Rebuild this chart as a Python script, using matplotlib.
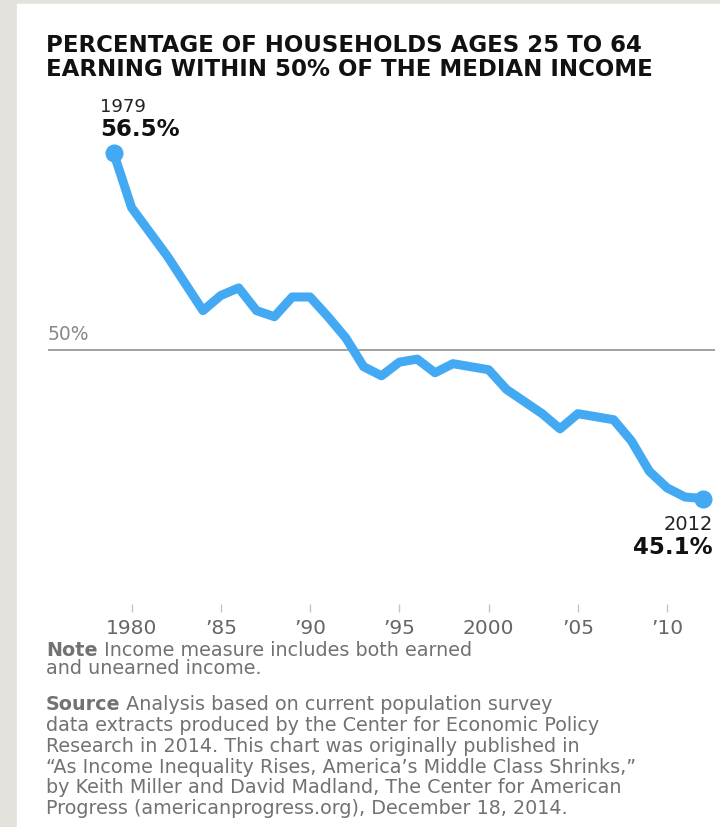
import numpy as np
import matplotlib
matplotlib.use("Agg")
import matplotlib.pyplot as plt
from matplotlib.patches import Rectangle

# 数据：1979-2012 年中等收入附近家庭占比（%）
years = np.arange(1979, 2013)
share = [56.5, 54.7, 53.9, 53.1, 52.2, 51.3, 51.8, 52.05, 51.3, 51.1,
         51.75, 51.75, 51.1, 50.4, 49.45, 49.15, 49.6, 49.7, 49.25, 49.55,
         49.45, 49.35, 48.7, 48.3, 47.9, 47.4, 47.9, 47.8, 47.7, 47.0,
         46.0, 45.45, 45.15, 45.1]
tick_years = [1980, 1985, 1990, 1995, 2000, 2005, 2010]
tick_labels = ["1980", "’85", "’90", "’95", "2000", "’05", "’10"]

title_lines = ["PERCENTAGE OF HOUSEHOLDS AGES 25 TO 64",
               "EARNING WITHIN 50% OF THE MEDIAN INCOME"]
note_body = "Income measure includes both earned"
note_rest = "and unearned income."
source_body = "Analysis based on current population survey"
source_rest = ["data extracts produced by the Center for Economic Policy",
               "Research in 2014. This chart was originally published in",
               "“As Income Inequality Rises, America’s Middle Class Shrinks,”",
               "by Keith Miller and David Madland, The Center for American",
               "Progress (americanprogress.org), December 18, 2014."]

W, H = 720, 827
fig = plt.figure(figsize=(W / 100, H / 100), dpi=100, facecolor="#e4e2dd")
fig.patches.append(Rectangle((17 / W, 0), 1 - 17 / W, 1 - 4 / H,
                             transform=fig.transFigure, color="white",
                             zorder=-10))

def fx(px):
    return px / W

def fy(py):
    return 1 - py / H

ax = fig.add_axes([fx(48), fy(604), fx(715) - fx(48), fy(90) - fy(604)])
ax.set_facecolor("none")
blue = "#42a9f2"
ax.plot(years, share, color=blue, lw=6.5, solid_joinstyle="round",
        solid_capstyle="round", zorder=3)
ax.plot([years[0], years[-1]], [share[0], share[-1]], "o", color=blue,
        ms=12, zorder=4)
ax.axhline(50, color="#9a9a9a", lw=1.3, zorder=1)

ax.set_xlim(1975.32, 2012.68)
ax.set_ylim(41.62, 58.58)
ax.set_yticks([])
ax.set_xticks(tick_years)
ax.set_xticklabels(tick_labels, fontsize=14.5, color="#666666")
ax.tick_params(axis="x", length=6, width=1, color="#c4c4c4", pad=5)
for s in ax.spines.values():
    s.set_visible(False)

ax.text(0, 50.2, "50%", transform=ax.get_yaxis_transform(), fontsize=13.5,
        color="#888888", ha="left", va="bottom")

for i, line in enumerate(title_lines):
    fig.text(fx(46), fy(46 + 23 * i), line, fontsize=16.5, fontweight="bold",
             color="#111111", ha="left", va="center")

fig.text(fx(100), fy(107), "1979", fontsize=13, color="#222222",
         ha="left", va="center")
fig.text(fx(100), fy(130), "56.5%", fontsize=16.5, fontweight="bold",
         color="#111111", ha="left", va="center")
fig.text(fx(713), fy(524), "2012", fontsize=14, color="#222222",
         ha="right", va="center")
fig.text(fx(713), fy(548), "45.1%", fontsize=16.5, fontweight="bold",
         color="#111111", ha="right", va="center")

grey = "#727272"
fs = 13.8
n1 = fig.text(fx(46), fy(651), "Note", fontsize=fs, fontweight="bold",
              color=grey, ha="left", va="center")
fig.text(fx(46), fy(669), note_rest, fontsize=fs, color=grey,
         ha="left", va="center")
plt.annotate(" " + note_body, xy=(1, 0), xycoords=n1, fontsize=fs,
             color=grey, ha="left", va="bottom", annotation_clip=False)

s1 = fig.text(fx(46), fy(705), "Source", fontsize=fs, fontweight="bold",
              color=grey, ha="left", va="center")
plt.annotate(" " + source_body, xy=(1, 0), xycoords=s1, fontsize=fs,
             color=grey, ha="left", va="bottom", annotation_clip=False)
for i, line in enumerate(source_rest):
    fig.text(fx(46), fy(725.5 + 20.8 * i), line, fontsize=fs, color=grey,
             ha="left", va="center")

fig.savefig("out.png", dpi=100, facecolor=fig.get_facecolor())
